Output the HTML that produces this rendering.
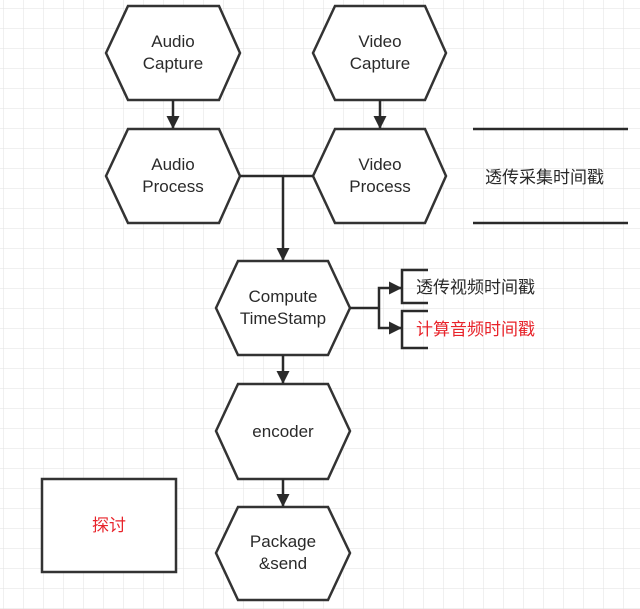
<!DOCTYPE html>
<html><head><meta charset="utf-8"><style>
html,body{margin:0;padding:0;width:640px;height:609px;overflow:hidden;background:#fff}
svg{display:block}
text{font-family:"Liberation Sans","Noto Sans CJK SC",sans-serif;font-size:17px;fill:#2a2a2a}
</style></head><body>
<svg width="640" height="609" viewBox="0 0 640 609" xmlns="http://www.w3.org/2000/svg">
<defs>
<pattern id="g" x="3" y="8" width="20" height="20" patternUnits="userSpaceOnUse">
<path d="M0 0H20M0 0V20" stroke="#e2e2e2" stroke-width="1" fill="none"/>
</pattern>
<marker id="a" markerWidth="14" markerHeight="14" refX="12" refY="6.5" orient="auto" markerUnits="userSpaceOnUse">
<path d="M0 0L13 6.5L0 13z" fill="#2a2a2a"/>
</marker>
</defs>
<rect width="640" height="609" fill="url(#g)"/>
<g fill="#fff" stroke="#333" stroke-width="2.5" stroke-linejoin="miter">
<polygon points="106,53 128,6 219,6 240,53 219,100 128,100"/>
<polygon points="106,176 128,129 219,129 240,176 219,223 128,223"/>
<polygon points="313,53 335,6 425,6 446,53 425,100 335,100"/>
<polygon points="313,176 335,129 425,129 446,176 425,223 335,223"/>
<polygon points="216,308 238,261 328,261 350,308 328,355 238,355"/>
<polygon points="216,431 238,384 328,384 350,431 328,479 238,479"/>
<polygon points="216,553 238,507 328,507 350,553 328,600 238,600"/>
<rect x="42" y="479" width="134" height="93"/>
</g>
<g stroke="#2a2a2a" stroke-width="2.5" fill="none">
<line x1="173" y1="100" x2="173" y2="128" marker-end="url(#a)"/>
<line x1="380" y1="100" x2="380" y2="128" marker-end="url(#a)"/>
<line x1="240" y1="176" x2="313" y2="176"/>
<line x1="283" y1="176" x2="283" y2="260" marker-end="url(#a)"/>
<line x1="283" y1="355" x2="283" y2="383" marker-end="url(#a)"/>
<line x1="283" y1="479" x2="283" y2="506" marker-end="url(#a)"/>
<line x1="350" y1="308" x2="379" y2="308"/>
<polyline points="379,308 379,288 401,288" marker-end="url(#a)"/>
<polyline points="379,308 379,328 401,328" marker-end="url(#a)"/>
<polyline points="428,270 402,270 402,303 428,303"/>
<polyline points="428,311 402,311 402,348 428,348"/>
<line x1="473" y1="129" x2="628" y2="129"/>
<line x1="473" y1="223" x2="628" y2="223"/>
</g>
<g text-anchor="middle">
<text x="173" y="47">Audio</text><text x="173" y="69">Capture</text>
<text x="173" y="170">Audio</text><text x="173" y="192">Process</text>
<text x="380" y="47">Video</text><text x="380" y="69">Capture</text>
<text x="380" y="170">Video</text><text x="380" y="192">Process</text>
<text x="283" y="302">Compute</text><text x="283" y="324">TimeStamp</text>
<text x="283" y="437">encoder</text>
<text x="283" y="547">Package</text><text x="283" y="569">&amp;send</text>
<text x="109" y="531" style="fill:#e8232a">探讨</text>
</g>
<text x="485" y="183">透传采集时间戳</text>
<text x="416" y="293">透传视频时间戳</text>
<text x="416" y="335" style="fill:#e8232a">计算音频时间戳</text>
</svg>
</body></html>
